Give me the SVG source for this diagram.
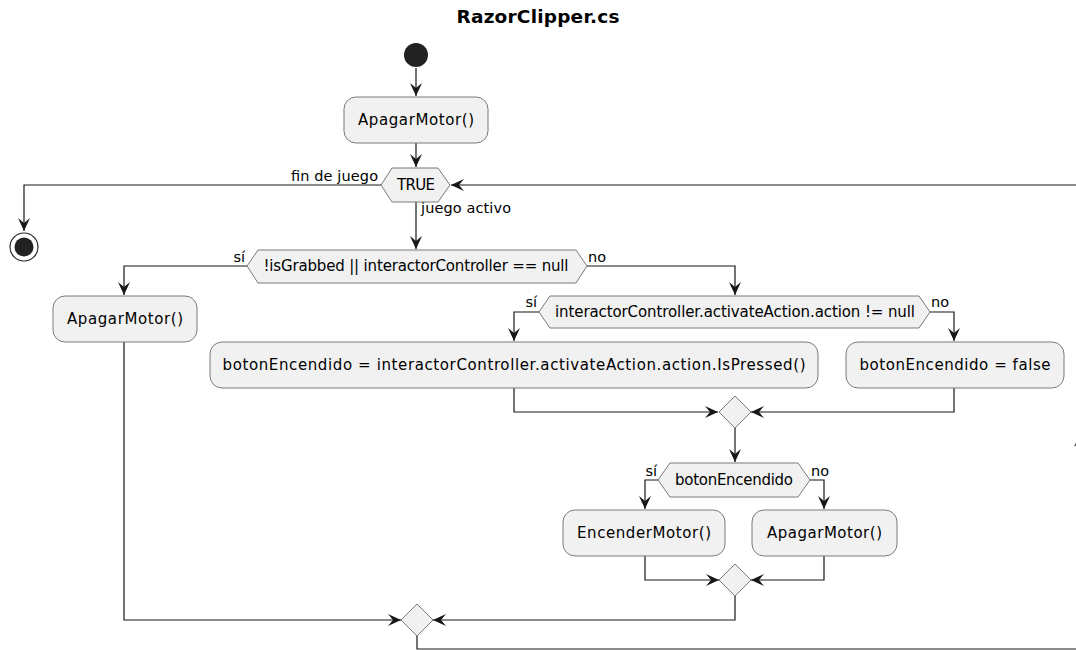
<svg xmlns="http://www.w3.org/2000/svg" width="1076" height="650" viewBox="0 0 1076 650">
<style>
text{font-family:"DejaVu Sans","Noto Sans",sans-serif;font-size:15px;fill:#000}
.title{font-weight:bold;font-size:18.5px}
.node{fill:#F1F1F1;stroke:#7a7a7a;stroke-width:1}
.c{fill:none;stroke:#181818;stroke-width:1.2}
.m{text-anchor:middle}
.e{text-anchor:end}
.l{font-size:14.5px}
</style>
<defs>
<marker id="ah" viewBox="-14 -7 15 14" refX="0" refY="0" markerWidth="15" markerHeight="14" markerUnits="userSpaceOnUse" orient="auto">
<path d="M0,0 L-13,-6 L-8,0 L-13,6 Z" fill="#181818"/>
</marker>
</defs>
<rect width="1076" height="650" fill="#fff"/>
<text class="title m" x="538" y="23" textLength="163">RazorClipper.cs</text>

<g id="connectors">
<path class="c" d="M416,68 V96" marker-end="url(#ah)"/>
<path class="c" d="M416,143 V167" marker-end="url(#ah)"/>
<path class="c" d="M416,202 V249" marker-end="url(#ah)"/>
<path class="c" d="M381,185 H24 V231" marker-end="url(#ah)"/>
<path class="c" d="M247,266 H124 V295" marker-end="url(#ah)"/>
<path class="c" d="M587,266 H735 V295" marker-end="url(#ah)"/>
<path class="c" d="M539,312 H514 V341" marker-end="url(#ah)"/>
<path class="c" d="M930,312 H954 V341" marker-end="url(#ah)"/>
<path class="c" d="M514,388 V412 H718" marker-end="url(#ah)"/>
<path class="c" d="M954,388 V412 H751" marker-end="url(#ah)"/>
<path class="c" d="M735,428 V462" marker-end="url(#ah)"/>
<path class="c" d="M658,480 H645 V509" marker-end="url(#ah)"/>
<path class="c" d="M810,480 H824 V509" marker-end="url(#ah)"/>
<path class="c" d="M645,556 V580 H719" marker-end="url(#ah)"/>
<path class="c" d="M824,556 V580 H751" marker-end="url(#ah)"/>
<path class="c" d="M735,596 V620 H433" marker-end="url(#ah)"/>
<path class="c" d="M124,342 V620 H401" marker-end="url(#ah)"/>
<path class="c" d="M417,636 V649 H1080 V185 H451" marker-end="url(#ah)"/>
<path d="M1080,434 L1074,447 L1080,442 L1086,447 Z" fill="#181818"/>
<text class="l e" x="378" y="181" textLength="87">fin de juego</text>
<text class="l" x="421" y="213" textLength="90">juego activo</text>
<text class="l e" x="245" y="262">sí</text>
<text class="l" x="588" y="262">no</text>
<text class="l e" x="537" y="307">sí</text>
<text class="l" x="931" y="307">no</text>
<text class="l e" x="657" y="476">sí</text>
<text class="l" x="811" y="476">no</text>
</g>

<g id="start"><circle cx="416" cy="55" r="12" fill="#222"/></g>
<g id="stop"><circle cx="24" cy="247" r="14" fill="#fff" stroke="#222" stroke-width="1.2"/><circle cx="24" cy="247" r="9.5" fill="#222"/></g>

<g id="apagar1"><rect class="node" x="344" y="97" width="144" height="46" rx="12"/><text class="m" x="416" y="125" textLength="116">ApagarMotor()</text></g>
<g id="loop"><polygon class="node" points="381,185 392,168 438,168 450,185 438,202 392,202"/><text class="m" x="416" y="190" textLength="38">TRUE</text></g>
<g id="cond1"><polygon class="node" points="247,266 258,250 576,250 587,266 576,283 258,283"/><text class="m" x="416" y="271" textLength="305">!isGrabbed || interactorController == null</text></g>
<g id="apagar2"><rect class="node" x="53" y="296" width="144" height="46" rx="12"/><text class="m" x="125" y="324" textLength="116">ApagarMotor()</text></g>
<g id="cond2"><polygon class="node" points="539,312 550,296 919,296 930,312 919,328 550,328"/><text class="m" x="735" y="317" textLength="360">interactorController.activateAction.action != null</text></g>
<g id="asignar1"><rect class="node" x="210" y="342" width="608" height="46" rx="12"/><text class="m" x="514" y="370" textLength="583">botonEncendido = interactorController.activateAction.action.IsPressed()</text></g>
<g id="asignar2"><rect class="node" x="846" y="342" width="218" height="46" rx="12"/><text class="m" x="955" y="370" textLength="191">botonEncendido = false</text></g>
<g id="merge1"><polygon class="node" points="735,396 751,412 735,428 719,412"/></g>
<g id="cond3"><polygon class="node" points="658,480 670,463 798,463 810,480 798,497 670,497"/><text class="m" x="734" y="485" textLength="118">botonEncendido</text></g>
<g id="encender"><rect class="node" x="563" y="510" width="162" height="46" rx="12"/><text class="m" x="644" y="538" textLength="134">EncenderMotor()</text></g>
<g id="apagar3"><rect class="node" x="752" y="510" width="145" height="46" rx="12"/><text class="m" x="824.5" y="538" textLength="115">ApagarMotor()</text></g>
<g id="merge2"><polygon class="node" points="735,564 751,580 735,596 719,580"/></g>
<g id="merge3"><polygon class="node" points="417,604 433,620 417,636 401,620"/></g>
</svg>
